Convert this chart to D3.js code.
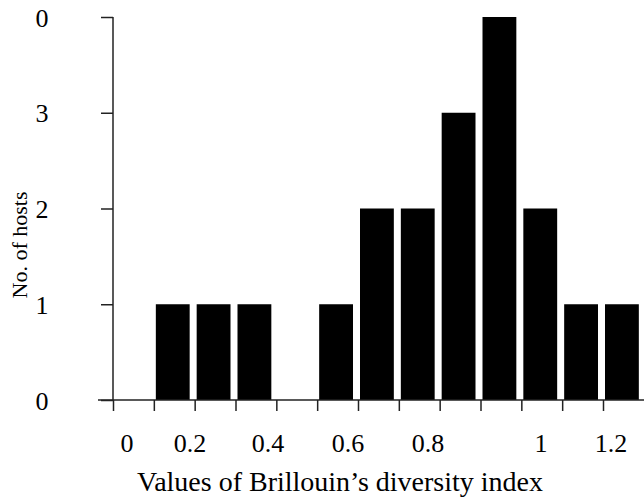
<!DOCTYPE html>
<html>
<head>
<meta charset="utf-8">
<script src="https://cdn.jsdelivr.net/npm/d3@7"></script>
<style>
  html, body { margin: 0; padding: 0; background: #fff; }
  svg { display: block; }
  text { font-family: "Liberation Serif", "Times New Roman", serif; fill: #000; }
</style>
</head>
<body>
<svg id="chart" width="644" height="499"></svg>
<script>
// Histogram of Brillouin's diversity index values across hosts (bins of width 0.1)
const binStarts = [0.1, 0.2, 0.3, 0.4, 0.5, 0.6, 0.7, 0.8, 0.9, 1.0, 1.1, 1.2];
const hostCounts = [1, 1, 1, 0, 1, 2, 2, 3, 4, 2, 1, 1];
const binWidth = 0.1;
const xTickValues = [0, 0.1, 0.2, 0.3, 0.4, 0.5, 0.6, 0.7, 0.8, 0.9, 1.0, 1.1, 1.2];
const xLabelValues = [0, 0.2, 0.4, 0.6, 0.8, 1.0, 1.2];
const xLabelTexts = ["0", "0.2", "0.4", "0.6", "0.8", "1", "1.2"];
const yTickValues = [0, 1, 2, 3, 4];
const yLabelTexts = ["0", "1", "2", "3", "0"];

const svg = d3.select("#chart");

const x = d3.scaleLinear().domain([0, 1.2]).range([113, 603]);
const y = d3.scaleLinear().domain([0, 4]).range([400, 17]);
// the printed value labels sit slightly off the bin edges
const xLabel = d3.scaleLinear().domain(xLabelValues).range([127, 190, 268, 348, 428, 541, 611]);

const axisColor = "#222";

// bars
svg.append("g")
  .selectAll("rect")
  .data(binStarts.map((s, i) => ({ start: s, count: hostCounts[i] })).filter(d => d.count > 0))
  .join("rect")
  .attr("x", d => x(d.start) + 2)
  .attr("width", d => x(d.start + binWidth) - x(d.start) - 7)
  .attr("y", d => y(d.count))
  .attr("height", d => y(0) - y(d.count))
  .attr("fill", "#000");

// x axis: baseline with downward ticks at bin edges
const xAxis = d3.axisBottom(x)
  .tickValues(xTickValues)
  .tickSize(11)
  .tickFormat("");
const gx = svg.append("g")
  .attr("transform", `translate(0,${y(0)})`)
  .call(xAxis);
gx.select(".domain").remove();
gx.selectAll(".tick line").attr("stroke", axisColor).attr("stroke-width", 1.5);
gx.append("line")
  .attr("x1", 98).attr("x2", 644)
  .attr("y1", 0).attr("y2", 0)
  .attr("stroke", axisColor).attr("stroke-width", 1.5);

// x value labels
svg.append("g")
  .selectAll("text")
  .data(xLabelValues)
  .join("text")
  .attr("x", d => xLabel(d))
  .attr("y", 452)
  .attr("text-anchor", "middle")
  .attr("font-size", 26)
  .text((d, i) => xLabelTexts[i]);

// y axis
const yAxis = d3.axisLeft(y)
  .tickValues(yTickValues)
  .tickSize(12)
  .tickFormat((d, i) => yLabelTexts[i]);
const gy = svg.append("g")
  .attr("transform", `translate(${x(0)},0)`)
  .call(yAxis);
gy.select(".domain").remove();
gy.append("line")
  .attr("x1", 0).attr("x2", 0)
  .attr("y1", y(4)).attr("y2", y(0))
  .attr("stroke", axisColor).attr("stroke-width", 1.5);
gy.selectAll(".tick line").attr("stroke", axisColor).attr("stroke-width", 1.5);
gy.selectAll(".tick text")
  .attr("x", -71)
  .attr("dy", "0.35em")
  .attr("text-anchor", "middle")
  .attr("font-size", 26)
  .attr("font-family", "Liberation Serif, serif")
  .attr("fill", "#000");

// axis titles
svg.append("text")
  .attr("x", 340)
  .attr("y", 491)
  .attr("text-anchor", "middle")
  .attr("font-size", 28)
  .text("Values of Brillouin\u2019s diversity index");

svg.append("text")
  .attr("transform", "translate(27,245) rotate(-90)")
  .attr("text-anchor", "middle")
  .attr("font-size", 22)
  .text("No. of hosts");
</script>
</body>
</html>
